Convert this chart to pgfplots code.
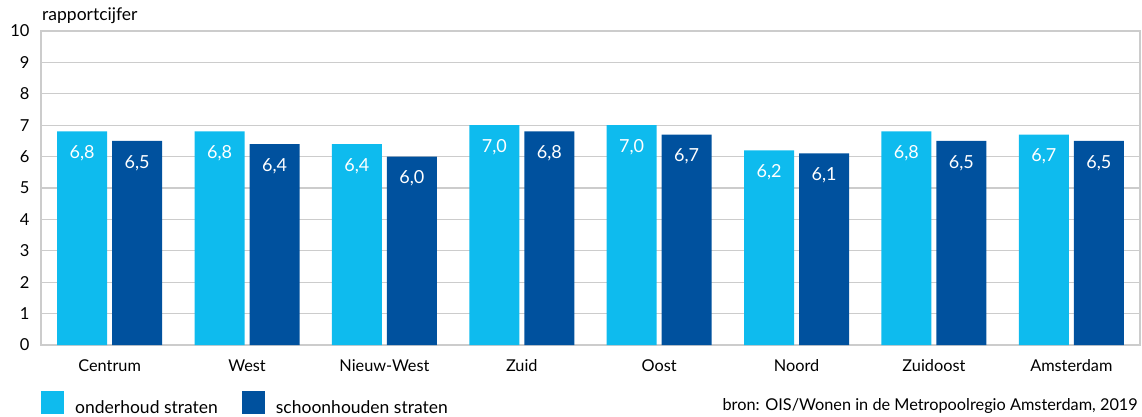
\documentclass[border=0pt]{standalone}
\usepackage{pgfplots}
\pgfplotsset{compat=1.18}
\usepackage{fontspec}
\setmainfont{Lato}
\definecolor{lightb}{HTML}{0EBBEE}
\definecolor{darkb}{HTML}{00519E}
\definecolor{gridg}{HTML}{CCCCCC}
\begin{document}
\begin{tikzpicture}[font=\fontsize{17.5}{21}\selectfont]
\begin{axis}[
    at={(0,0)}, anchor=south west,
    scale only axis,
    width=1099pt, height=314pt,
    ybar=5pt, bar width=50pt,
    xmin=-0.5, xmax=7.5,
    ymin=0, ymax=10,
    ytick={0,1,...,10},
    xtick={0,...,7},
    xticklabels={Centrum,West,Nieuw-West,Zuid,Oost,Noord,Zuidoost,Amsterdam},
    major tick length=0pt,
    ymajorgrids,
    grid style={gridg, line width=1.2pt},
    axis line style={gridg, line width=1.2pt},
    /pgf/number format/assume math mode=true,
    yticklabel style={anchor=east, xshift=-8pt, font=\fontsize{16.5}{20}\selectfont},
    xticklabel style={yshift=-11pt, font=\fontsize{16.3}{20}\selectfont},
    nodes near coords,
    nodes near coords style={/pgf/number format/fixed, /pgf/number format/fixed zerofill,
        /pgf/number format/precision=1, /pgf/number format/use comma},
    every node near coord/.append style={anchor=center, yshift=-22pt, white, font=\fontsize{18}{21}\selectfont},
    legend style={at={(0,0)}, anchor=north west, xshift=-3pt, yshift=-44pt, draw=none, fill=none,
        legend columns=2,
        /tikz/every odd column/.append style={column sep=9pt},
        /tikz/every even column/.append style={column sep=22pt}},
    legend image code/.code={\fill[#1] (0pt,-6pt) rectangle (23pt,17pt);},
    legend cell align=left,
]
\addplot[fill=lightb, draw=none] coordinates {(0,6.8) (1,6.8) (2,6.4) (3,7.0) (4,7.0) (5,6.2) (6,6.8) (7,6.7)};
\addplot[fill=darkb, draw=none] coordinates {(0,6.5) (1,6.4) (2,6.0) (3,6.8) (4,6.7) (5,6.1) (6,6.5) (7,6.5)};
\legend{onderhoud straten, schoonhouden straten}
\end{axis}
\node[anchor=base west, inner sep=0pt] at (1pt,324pt) {rapportcijfer};
\node[anchor=base east, inner sep=0pt, font=\fontsize{16.3}{20}\selectfont] at (1097pt,-65pt) {bron: OIS/Wonen in de Metropoolregio Amsterdam, 2019};
\pgfresetboundingbox
\path (-41pt,-71pt) rectangle (1101pt,345pt);
\end{tikzpicture}
\end{document}
